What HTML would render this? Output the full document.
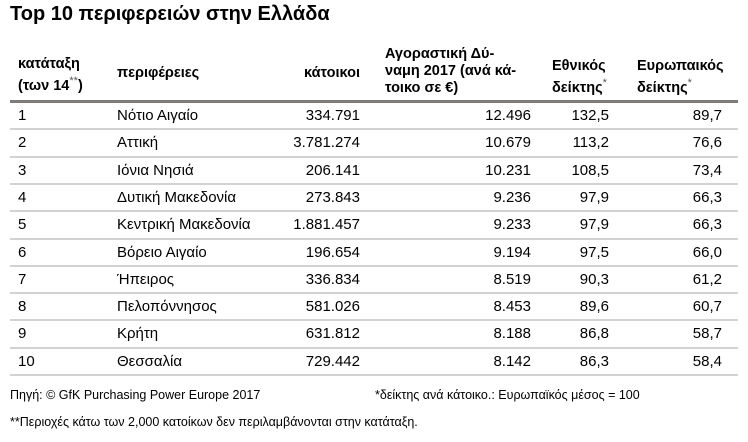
<!DOCTYPE html>
<html><head><meta charset="utf-8"><style>
body{margin:0;width:748px;height:442px;background:#fff;font-family:"Liberation Sans",sans-serif;color:#000;position:relative;overflow:hidden}
.a{position:absolute;white-space:nowrap}
.t{left:10px;top:3px;font-size:20px;font-weight:bold}
.h{font-size:14.5px;font-weight:bold;line-height:17px}
.c{font-size:15px}
.r{text-align:right}
.line{position:absolute;left:10px;width:728px}
.f{font-size:12.5px}
sup{font-size:11px;font-weight:normal;color:#555}
</style></head><body>
<div class="a t">Top 10 περιφερειών στην Ελλάδα</div>
<div class="a h" style="left:18px;top:56px">κατάταξη<br>(των 14<sup>**</sup>)</div>
<div class="a h" style="left:117px;top:65px">περιφέρειες</div>
<div class="a h r" style="right:388px;top:65px">κάτοικοι</div>
<div class="a h" style="left:385px;top:46px">Αγοραστική Δύ-<br>ναμη 2017 (ανά κά-<br>τοικο σε €)</div>
<div class="a h" style="left:552px;top:58px">Εθνικός<br>δείκτης<sup>*</sup></div>
<div class="a h" style="left:637px;top:58px">Ευρωπαικός<br>δείκτης<sup>*</sup></div>
<div class="line" style="top:100px;height:3px;background:#7f7b78"></div>
<div id="rows"></div>
<div class="a f" style="left:10px;top:388px">Πηγή: © GfK Purchasing Power Europe 2017</div>
<div class="a f" style="left:375px;top:388px">*δείκτης ανά κάτοικο.: Ευρωπαϊκός μέσος = 100</div>
<div class="a f" style="left:10px;top:415px">**Περιοχές κάτω των 2,000 κατοίκων δεν περιλαμβάνονται στην κατάταξη.</div>
<script>
const ranks=["1","2","3","4","5","6","7","8","9","10"];
const regions=["Νότιο Αιγαίο","Αττική","Ιόνια Νησιά","Δυτική Μακεδονία","Κεντρική Μακεδονία","Βόρειο Αιγαίο","Ήπειρος","Πελοπόννησος","Κρήτη","Θεσσαλία"];
const population=["334.791","3.781.274","206.141","273.843","1.881.457","196.654","336.834","581.026","631.812","729.442"];
const power=["12.496","10.679","10.231","9.236","9.233","9.194","8.519","8.453","8.188","8.142"];
const national=["132,5","113,2","108,5","97,9","97,9","97,5","90,3","89,6","86,8","86,3"];
const european=["89,7","76,6","73,4","66,3","66,3","66,0","61,2","60,7","58,7","58,4"];
const root=document.body;
const top0=103,rh=27.3;
ranks.forEach((rk,i)=>{
  const y=top0+i*rh;
  const cells=[[rk,"left:18px","rank"],[regions[i],"left:117px","region"],[population[i],"right:388px","population"],[power[i],"right:217px","purchasing-power"],[national[i],"right:139px","national-index"],[european[i],"right:26px","european-index"]];
  cells.forEach(c=>{
    const d=document.createElement('div');
    d.className='a c'+(c[1].startsWith('right')?' r':'');
    d.setAttribute('style',c[1]+';top:'+(y+4)+'px');
    d.textContent=c[0];
    
    
    root.appendChild(d);
  });
  const l=document.createElement('div');
  l.className='line';
  l.setAttribute('style','top:'+(y+rh-2)+'px;height:2px;background:#d4d2d0');
  
  
  root.appendChild(l);
});
</script>
</body></html>
